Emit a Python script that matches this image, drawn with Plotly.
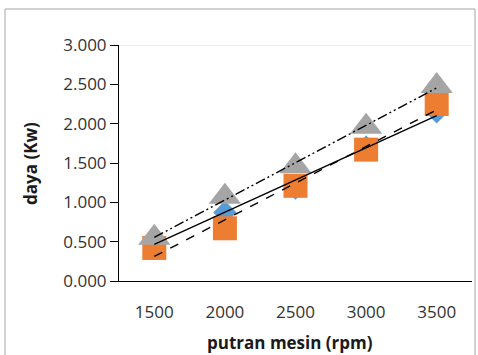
import numpy as np
import plotly.graph_objects as go

# engine speed categories (rpm)
putaran = ["1500", "2000", "2500", "3000", "3500"]

# power output (kW) for the three test series
daya_a = [0.52, 0.87, 1.18, 1.70, 2.15]   # blue diamonds
daya_b = [0.42, 0.67, 1.21, 1.67, 2.25]   # orange squares
daya_c = [0.55, 1.07, 1.46, 1.96, 2.48]   # gray triangles

y_ticks = [0.0, 0.5, 1.0, 1.5, 2.0, 2.5, 3.0]

# plot-area geometry in pixels (used to place paper-referenced extras)
W, H = 478, 355
L, R, T, B = 119, 472, 45, 281
pw, ph = R - L, B - T


def px_x(p):
    return (p - L) / pw


def px_y(p):
    return (B - p) / ph


idx = np.arange(len(putaran))
fig = go.Figure()

series = [
    (daya_a, "#5B9BD5", "diamond", 18, "solid"),
    (daya_b, "#ED7D31", "square", 24, "dash"),
    (daya_c, "#A5A5A5", "triangle-up", 28, "10px,3px,2px,3px,2px,3px"),
]

for vals, color, sym, size, _ in series:
    fig.add_trace(go.Scatter(
        x=putaran, y=vals, mode="markers",
        marker=dict(symbol=sym, size=size, color=color, line=dict(width=0)),
        showlegend=False, hoverinfo="skip",
    ))

# linear trend line for each series
for vals, _, _, _, dash in series:
    k, c = np.polyfit(idx, vals, 1)
    fig.add_trace(go.Scatter(
        x=putaran, y=k * idx + c, mode="lines",
        line=dict(color="black", width=1.4, dash=dash),
        showlegend=False, hoverinfo="skip",
    ))

tick_font = dict(family="Open Sans", size=17, color="#333333")
title_font = dict(family="Open Sans", size=17, color="#1a1a1a")

fig.update_layout(
    width=W, height=H,
    margin=dict(l=L, r=W - R, t=T, b=H - B),
    paper_bgcolor="white", plot_bgcolor="white",
    xaxis=dict(
        type="category", range=[-0.5, 4.5],
        showline=True, linecolor="black", linewidth=1,
        showgrid=False, zeroline=False, ticks="",
        tickfont=tick_font, ticklabelstandoff=16,
    ),
    yaxis=dict(
        range=[0, 3], tickvals=y_ticks, tickformat=".3f",
        showline=True, linecolor="black", linewidth=1,
        showgrid=False, zeroline=False,
        ticks="outside", ticklen=8, tickcolor="black", tickwidth=1,
        tickfont=tick_font,
    ),
    annotations=[
        dict(text="<b>putran mesin (rpm)</b>", xref="paper", yref="paper",
             x=px_x(290), y=px_y(342), xanchor="center", yanchor="middle",
             showarrow=False, font=title_font),
        dict(text="<b>daya (Kw)</b>", xref="paper", yref="paper",
             x=px_x(30), y=px_y(164), xanchor="center", yanchor="middle",
             textangle=-90, showarrow=False, font=title_font),
    ],
    shapes=[
        # top boundary line of the plot area
        dict(type="line", xref="paper", yref="y", x0=0, x1=1, y0=3, y1=3,
             line=dict(color="#d9d9d9", width=1), layer="below"),
        # chart frame
        dict(type="rect", xref="paper", yref="paper",
             x0=px_x(5), x1=px_x(475), y0=px_y(370), y1=px_y(9),
             line=dict(color="#a6a6a6", width=1)),
    ],
)

fig.write_html("out.html")
